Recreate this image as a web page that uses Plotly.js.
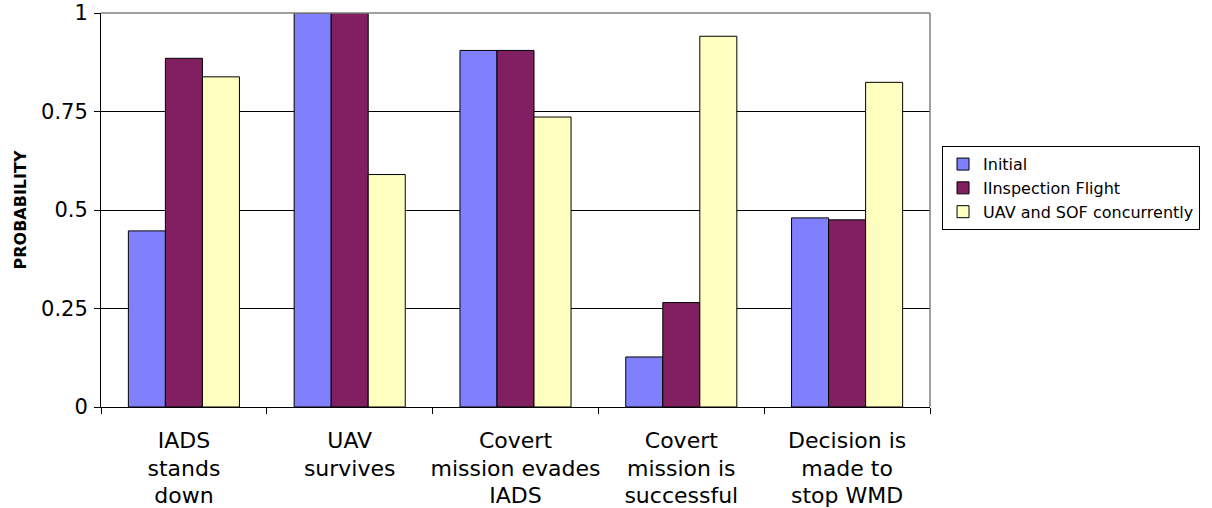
<!DOCTYPE html>
<html>
<head>
<meta charset="utf-8">
<script src="https://cdn.plot.ly/plotly-3.0.1.min.js"></script>
<style>html,body{margin:0;padding:0;background:#fff;}#chart{width:1212px;height:508px;}</style>
</head>
<body>
<div id="chart"></div>
<script>
const categories = [
  ["IADS", "stands", "down"],
  ["UAV", "survives"],
  ["Covert", "mission evades", "IADS"],
  ["Covert", "mission is", "successful"],
  ["Decision is", "made to", "stop WMD"]
];
const seriesNames = ["Initial", "IInspection Flight", "UAV and SOF concurrently"];
const initial = [0.447, 1.0, 0.905, 0.127, 0.48];
const inspection = [0.885, 1.0, 0.905, 0.265, 0.475];
const uavSof = [0.838, 0.590, 0.736, 0.941, 0.824];
const yTickVals = [0, 0.25, 0.5, 0.75, 1];
const yTickText = ["0", "0.25", "0.5", "0.75", "1"];

const FONT = "DejaVu Sans, Verdana, sans-serif";
const colors = ["#8080FF", "#802060", "#FFFFC0"];
const catKeys = categories.map((c, i) => "c" + i);
const tickText = categories.map(lines => lines.map(l => '<span style="font-size:22px">' + l + '</span>').join("<br>"));

const values = [initial, inspection, uavSof];
const traces = values.map((v, i) => ({
  type: "bar",
  name: seriesNames[i],
  x: catKeys,
  y: v,
  marker: {color: colors[i], line: {color: "#000", width: 1}},
  hoverinfo: "y"
}));

const layout = {
  width: 1212, height: 508,
  margin: {l: 101, r: 282, t: 13, b: 101},
  paper_bgcolor: "#fff", plot_bgcolor: "#fff",
  font: {family: FONT, color: "#000"},
  barmode: "group", bargap: 0.33, bargroupgap: 0,
  showlegend: true,
  legend: {
    x: 1.0145, y: 0.662, xanchor: "left", yanchor: "top",
    bordercolor: "#000", borderwidth: 1, bgcolor: "#fff",
    font: {size: 16, family: FONT},
    itemwidth: 30,
    tracegroupgap: 0
  },
  xaxis: {
    type: "category",
    tickmode: "array", tickvals: catKeys, ticktext: tickText,
    tickson: "boundaries", ticks: "outside", ticklen: 6, tickcolor: "#000",
    tickangle: 0,
    showline: true, linecolor: "#000", linewidth: 1,
    showgrid: false, zeroline: false,
    tickfont: {size: 21, family: FONT},
    ticklabelstandoff: 15,
    fixedrange: true
  },
  yaxis: {
    range: [0, 1],
    tickmode: "array", tickvals: yTickVals, ticktext: yTickText,
    ticks: "outside", ticklen: 6, tickcolor: "#000",
    showline: true, linecolor: "#000", linewidth: 1,
    showgrid: true, gridcolor: "#000", gridwidth: 1,
    zeroline: false,
    tickfont: {size: 21, family: FONT},
    ticklabelstandoff: 2,
    title: {text: "<b>PROBABILITY</b>", font: {size: 16, family: FONT}, standoff: 10},
    fixedrange: true
  },
  shapes: [{
    type: "line", xref: "paper", yref: "paper", x0: 0, x1: 1, y0: 1, y1: 1,
    line: {color: "#808080", width: 1.5}, layer: "above"
  }, {
    type: "line", xref: "paper", yref: "paper", x0: 1, x1: 1, y0: 0, y1: 1,
    line: {color: "#808080", width: 1.5}, layer: "above"
  }]
};

Plotly.newPlot("chart", traces, layout, {displayModeBar: false, staticPlot: true});
</script>
</body>
</html>
